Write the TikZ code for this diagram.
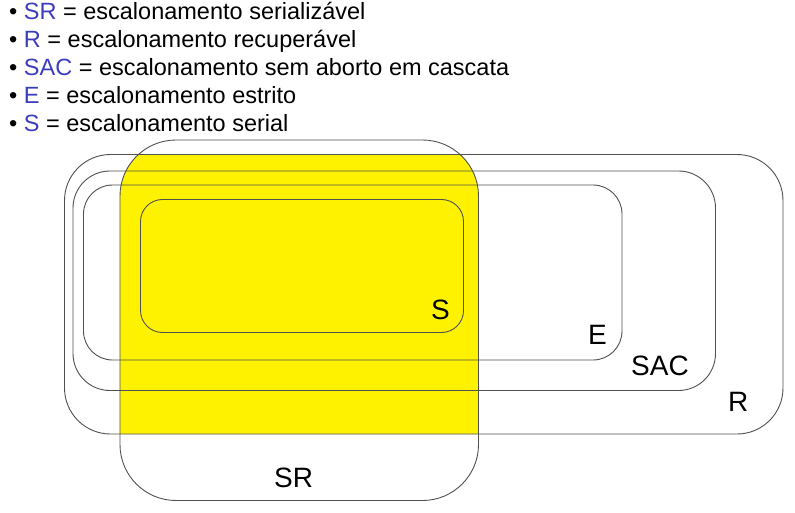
\documentclass[tikz,border=0pt]{standalone}
\usepackage{fontspec}
\setmainfont{Liberation Sans}
\definecolor{syel}{RGB}{255,242,0}
\definecolor{sblue}{RGB}{60,60,190}
\definecolor{sline}{RGB}{80,80,80}
\begin{document}
\begin{tikzpicture}[x=1pt,y=-1pt,
  setbox/.style={draw=sline, line width=0.9pt},
  legend/.style={anchor=base west, inner sep=0pt, font=\fontsize{23.5}{28}\selectfont},
  setlabel/.style={anchor=base west, inner sep=0pt, font=\fontsize{28}{32}\selectfont}]
\useasboundingbox (0,0) rectangle (795,513);
% yellow = SR inside R
\begin{scope}
  \clip[rounded corners=46pt] (64.5,154.5) rectangle (783,434);
  \fill[syel, rounded corners=56pt] (120,140) rectangle (478.5,500.5);
\end{scope}
% outlines
\draw[setbox, rounded corners=46pt] (64.5,154.5) rectangle (783,434);
\draw[setbox, rounded corners=37pt] (73,171) rectangle (715.5,390.5);
\draw[setbox, rounded corners=29pt] (83.5,185) rectangle (622,360);
\draw[setbox, rounded corners=22pt] (140.5,199.5) rectangle (463.5,332.5);
\draw[setbox, rounded corners=56pt] (120,140) rectangle (478.5,500.5);
% set labels
\node[setlabel] (lS) at (431,319) {S};
\node[setlabel] (lE) at (588,344) {E};
\node[setlabel] (lSAC) at (631,375) {SAC};
\node[setlabel] (lR) at (728,411.5) {R};
\node[setlabel] (lSR) at (274,487) {SR};
% legend
\node[legend] (t1) at (9,20) {• \textcolor{sblue}{SR} = escalonamento serializável};
\node[legend] (t2) at (9,48) {• \textcolor{sblue}{R} = escalonamento recuperável};
\node[legend] (t3) at (9,76) {• \textcolor{sblue}{SAC} = escalonamento sem aborto em cascata};
\node[legend] (t4) at (9,104) {• \textcolor{sblue}{E} = escalonamento estrito};
\node[legend] (t5) at (9,132) {• \textcolor{sblue}{S} = escalonamento serial};
\end{tikzpicture}
\end{document}
